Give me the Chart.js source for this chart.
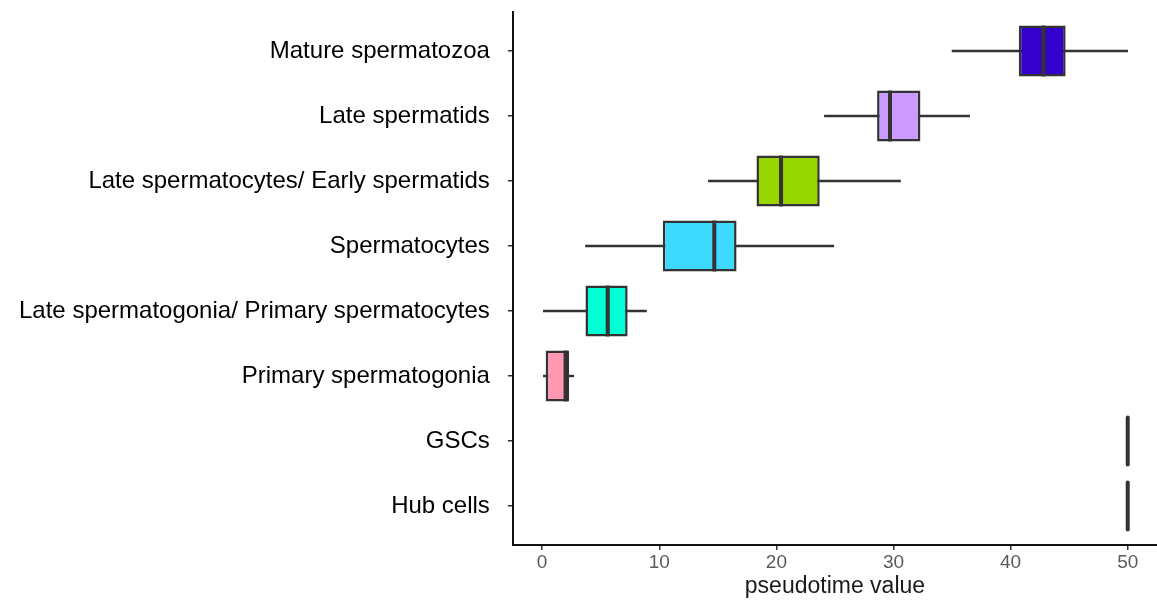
<!DOCTYPE html>
<html>
<head>
<meta charset="utf-8">
<script src="https://cdn.jsdelivr.net/npm/chart.js@4.4.0/dist/chart.umd.min.js"></script>
<style>
  html, body { margin: 0; padding: 0; background: #ffffff; }
  #wrap { width: 1157px; height: 605px; }
</style>
</head>
<body>
<div id="wrap"><canvas id="boxChart"></canvas></div>
<script>
/*************************************************************
 *                     CHART DATA
 *************************************************************/

// bottom to top (Hub cells sits at the bottom of the plot)
const cellTypes = [
  "Hub cells",
  "GSCs",
  "Primary spermatogonia",
  "Late spermatogonia/ Primary spermatocytes",
  "Spermatocytes",
  "Late spermatocytes/ Early spermatids",
  "Late spermatids",
  "Mature spermatozoa",
];

const whiskerLow  = [50, 50, 0.1, 0.1, 3.7, 14.2, 24.1, 35.0];
const boxLow      = [50, 50, 0.3, 3.7, 10.3, 18.3, 28.6, 40.7];
const medians     = [50, 50, 2.0, 5.6, 14.7, 20.4, 29.7, 42.8];
const boxHigh     = [50, 50, 2.3, 7.3, 16.6, 23.7, 32.3, 44.7];
const whiskerHigh = [50, 50, 2.7, 8.9, 24.9, 30.6, 36.5, 50.0];

const boxColors = [
  "#ffffff", "#ffffff", "#FF99B3", "#00FFD5",
  "#3DD9FF", "#99D600", "#CC99FF", "#3300CC",
];

const xTicks = [0, 10, 20, 30, 40, 50];

/*************************************************************
 *                     DATASETS
 *************************************************************/

const whiskerData = cellTypes.map((c, i) => ({ y: i, x: [whiskerLow[i], whiskerHigh[i]] }));
const boxData = cellTypes.map((c, i) => ({ y: i, x: [boxLow[i], boxHigh[i]] }));

// median line drawn across each box, using the box element's own geometry
const medianPlugin = {
  id: "medianLines",
  afterDatasetsDraw(chart) {
    const meta = chart.getDatasetMeta(1);
    const xs = chart.scales.x;
    const ctx = chart.ctx;
    ctx.save();
    ctx.strokeStyle = "#333333";
    ctx.lineWidth = 4;
    meta.data.forEach((bar, i) => {
      const px = xs.getPixelForValue(medians[i]);
      const half = bar.height / 2;
      const flat = boxLow[i] === boxHigh[i];
      ctx.lineCap = flat ? "round" : "butt";
      ctx.beginPath();
      ctx.moveTo(px, bar.y - half + (flat ? 2 : 0));
      ctx.lineTo(px, bar.y + half - (flat ? 2 : 0));
      ctx.stroke();
    });
    ctx.restore();
  },
};

const fontFamily = "'Liberation Sans', Arial, sans-serif";

const config = {
  type: "bar",
  data: {
    datasets: [
      {
        label: "whisker",
        data: whiskerData,
        backgroundColor: "#333333",
        borderWidth: 0,
        barThickness: 2,
        grouped: false,
        order: 2,
      },
      {
        label: "box",
        data: boxData,
        backgroundColor: boxColors,
        borderColor: "#333333",
        borderWidth: 2.5,
        borderSkipped: false,
        grouped: false,
        barPercentage: 0.87,
        categoryPercentage: 0.9,
        order: 1,
      },
    ],
  },
  options: {
    indexAxis: "y",
    responsive: true,
    maintainAspectRatio: false,
    animation: false,
    layout: { padding: { top: 12, right: 0, left: 1, bottom: 7 } },
    plugins: {
      legend: { display: false },
      tooltip: { enabled: false },
    },
    scales: {
      x: {
        type: "linear",
        min: -2.5,
        max: 52.5,
        afterBuildTicks: (scale) => { scale.ticks = xTicks.map((v) => ({ value: v })); },
        grid: { display: true, drawOnChartArea: false, drawTicks: true, tickLength: 5, color: "#333333", lineWidth: 1.5 },
        border: { display: true, color: "#111111", width: 2 },
        ticks: { color: "#5a5a5a", font: { family: fontFamily, size: 19, lineHeight: 1 }, padding: 3 },
        title: {
          display: true,
          text: "pseudotime value",
          color: "#1a1a1a",
          font: { family: fontFamily, size: 23, lineHeight: 1 },
          padding: { top: 0, bottom: 0 },
        },
      },
      y: {
        type: "linear",
        min: -0.6,
        max: 7.6,
        offset: false,
        afterBuildTicks: (scale) => { scale.ticks = cellTypes.map((c, i) => ({ value: i })); },
        afterFit: (scale) => { scale.paddingTop = 0; scale.paddingBottom = 0; },
        grid: { display: true, offset: false, drawOnChartArea: false, drawTicks: true, tickLength: 5, color: "#333333", lineWidth: 1.5 },
        border: { display: true, color: "#111111", width: 2 },
        ticks: {
          color: "#000000",
          font: { family: fontFamily, size: 24 },
          padding: 18,
          callback: (v) => cellTypes[v],
        },
      },
    },
  },
  plugins: [medianPlugin],
};

new Chart(document.getElementById("boxChart"), config);
</script>
</body>
</html>
